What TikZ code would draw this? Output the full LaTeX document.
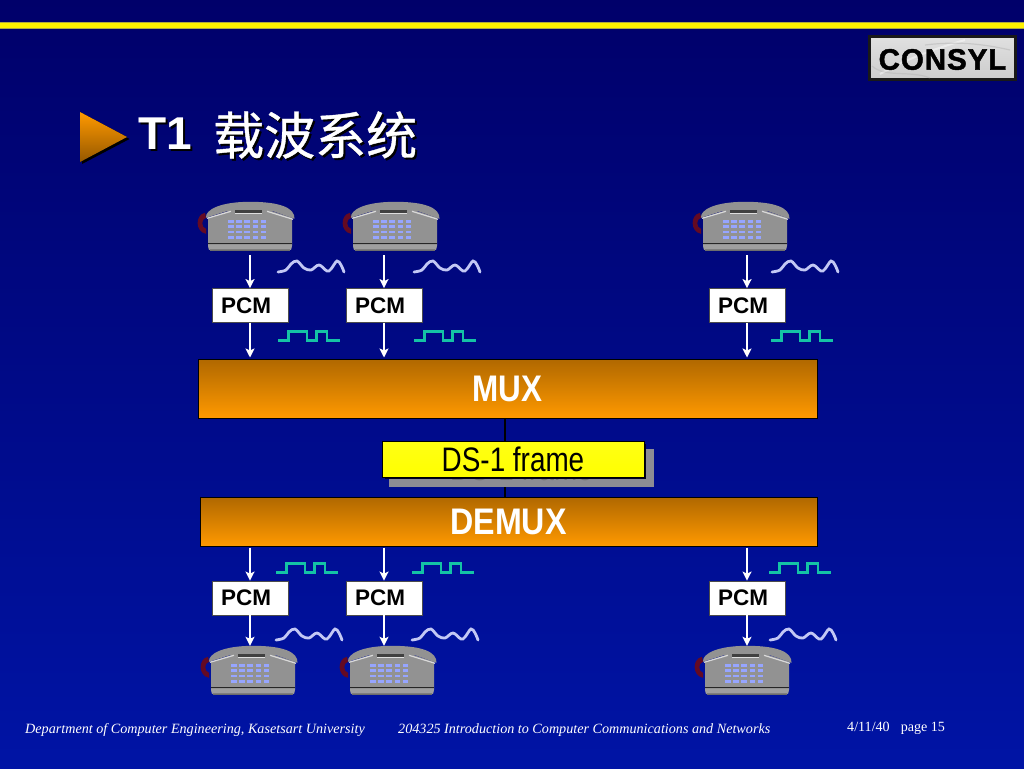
\documentclass[tikz,border=0pt]{standalone}
\usepackage{fontspec}
\setmainfont{Liberation Sans}
\newfontfamily\cjkfont{Noto Sans CJK SC}[FakeBold=0.8]
\newfontfamily\footfont{Liberation Serif}
\newfontfamily\heavyfont{Liberation Sans Bold}[FakeBold=1.5,LetterSpace=3]
\usetikzlibrary{arrows.meta,calc}
\definecolor{bgtop}{RGB}{0,0,106}
\definecolor{bgbot}{RGB}{0,20,165}
\definecolor{barl}{RGB}{255,153,0}
\definecolor{bard}{RGB}{176,104,0}
\definecolor{telgrey}{RGB}{146,146,146}
\definecolor{telkey}{RGB}{150,165,255}
\definecolor{wavec}{RGB}{195,200,245}
\definecolor{digic}{RGB}{20,195,165}
\definecolor{cordc}{RGB}{100,10,35}
\definecolor{ghost}{RGB}{140,140,148}
\newcommand{\fsz}[1]{\fontsize{#1}{#1}\selectfont}
\newcommand{\pcmtext}{\hspace*{-8pt}PCM}
\tikzset{
  x=1pt,y=-1pt,
  pcmbox/.style={draw=black!70,line width=.8pt,fill=white,minimum width=76pt,minimum height=34pt,inner sep=0pt,font=\fsz{22.5}\bfseries,text=black},
  barbox/.style={draw=black,line width=1pt,top color=bard,bottom color=barl,inner sep=0pt,text=white,font=\fsz{38}\bfseries},
  telbox/.style={minimum width=88pt,minimum height=49pt,inner sep=0pt},
  sig/.style={draw=white,line width=2.4pt,-{Stealth[length=9pt,width=9pt,inset=2pt]}},
  linklabel/.style={draw=black,line width=.8pt,inner sep=0pt},
  foot/.style={inner sep=0pt,text=white,font=\footfont\fsz{14.1}},
  telephone/.pic={
    \fill[cordc] (-45,11) .. controls (-55,13) and (-55,30) .. (-44,32) -- (-44,27) .. controls (-49,26) and (-49,17) .. (-44,16) -- cycle;
    \fill[telgrey] (-42,16) -- (-18,8) -- (18,8) -- (42,16) -- (42,44) -- (41,48) -- (-41,48) -- (-42,44) -- cycle;
    \fill[black!25!telgrey] (-40,47.5) rectangle (40,49.5);
    \fill[white!12!telgrey] (-42,43) -- (42,43) -- (41,47.5) -- (-41,47.5) -- cycle;
    \draw[black!85,line width=.9pt] (-42,41.5) -- (42,41.5);
    \fill[telgrey] (-44,16) .. controls (-45,8) and (-30,0) .. (0,0) .. controls (30,0) and (45,6) .. (44.5,17) -- (22,9) -- (-22,9) -- cycle;
    \draw[white!85!black,line width=1.2pt] (-43,16.5) -- (-19,9.5);
    \draw[white!85!black,line width=1.2pt] (17,9.5) -- (43,17.5);
    \fill[black!75] (-15,8) rectangle (12,11);
    \fill[white!70!telgrey] (-15,11) rectangle (12,12.5);
    \foreach \r in {0,1,2,3}{
      \foreach \c in {0,1,2,3,4}{
        \fill[telkey] ({-22+\c*8.2},{18+\r*5.4}) rectangle ++(5.6,2.7);
      }
    }
  },
  anwave/.pic={
    \draw[wavec,line width=2.8pt,line cap=round] plot[smooth,tension=.6] coordinates {(0,0) (8,-2) (13,-8) (19,-11) (26,-4) (33,-2) (41,-7) (49,-1) (53,-3) (59,-11) (63,-7) (66,0)};
  },
  digwave/.pic={
    \draw[digic,line width=2.8pt] (0,0) -- (10.7,0) -- (10.7,-9.3) -- (29,-9.3) -- (29,0) -- (38.3,0) -- (38.3,-9.3) -- (49,-9.3) -- (49,0) -- (61.7,0);
  }
}
\begin{document}
\begin{tikzpicture}
\useasboundingbox (0,0) rectangle (1024,768);
\fill[top color=bgtop,bottom color=bgbot] (0,0) rectangle (1024,768);
% top rule
\fill[black!35!yellow] (0,22.5) rectangle (1024,29);
\fill[yellow] (0,23) rectangle (1024,28);
% logo
\node[draw=black!90,line width=2.4pt,minimum width=146pt,minimum height=43pt,inner sep=0pt,top color=black!12,bottom color=black!20] (logo) at (942.5,58) {};
\begin{scope}
\clip (870,37) rectangle (1015,79);
\draw[white,line width=2pt,opacity=.45] (880,74) .. controls (905,60) and (930,50) .. (965,40);
\draw[black!40,line width=1.2pt,opacity=.3] (925,45) .. controls (950,42) and (975,42) .. (1010,50);
\draw[black!35,line width=1.2pt,opacity=.3] (872,66) .. controls (885,78) and (910,70) .. (930,78);
\end{scope}
\node[inner sep=0pt,text=black,font=\heavyfont\fsz{29.6}] (logotext) at (942.5,59.5) {CONSYL};
% title
\fill[black] (82,114.5) -- (129.5,139) -- (82,164) -- cycle;
\fill[top color=barl,bottom color=bard!85!black] (80,112) -- (127,137) -- (80,162) -- cycle;
\node[anchor=west,inner sep=0pt,text=black,font=\fsz{46}\bfseries] (t1s) at (140.5,136) {T1};
\node[anchor=west,inner sep=0pt,text=white,font=\fsz{46}\bfseries] (t1) at (138.5,134) {T1};
\node[anchor=west,inner sep=0pt,text=black,font=\cjkfont\fsz{51}] (tcs) at (215,137) {载波系统};
\node[anchor=west,inner sep=0pt,text=white,font=\cjkfont\fsz{51}] (tc) at (213,135) {载波系统};
% link and frame
\node[barbox] (mux) at (507.5,388.5) [minimum width=619pt,minimum height=59pt] {\raisebox{-1pt}{\scalebox{.85}[1]{\fsz{37}MUX}}};
\node[barbox] (demux) at (508.5,521.5) [minimum width=617pt,minimum height=49pt] {\raisebox{-1.5pt}{\scalebox{.87}[1]{\fsz{37}DEMUX}}};
\draw[black,line width=1.3pt] (mux.south -| 505,0) -- (demux.north -| 505,0);
\node[fill=ghost,minimum width=265pt,minimum height=38pt,inner sep=0pt,text=black!55,font=\fsz{34}] (ghostbox) at (521.5,468) {\scalebox{.82}[1]{DS-1 frame}};
\fill[black!70!bgtop] (385,444) rectangle (646,479);
\node[linklabel,top color=yellow!92!white,bottom color=yellow,minimum width=262pt,minimum height=36pt,text=black,font=\fsz{34}] (frame) at (513,459) {\scalebox{.82}[1]{DS-1 frame}};
% telephones
\node[telbox] (tel1) at (250,226.5) {};
\node[telbox] (tel2) at (395,226.5) {};
\node[telbox] (tel3) at (745,226.5) {};
\node[telbox] (tel4) at (253,670.5) {};
\node[telbox] (tel5) at (392,670.5) {};
\node[telbox] (tel6) at (747,670.5) {};
\foreach \n in {tel1,tel2,tel3,tel4,tel5,tel6}{
  \pic at (\n.north) {telephone};
}
% pcm
\node[pcmbox] (pcm1) at (250,305.5) {\pcmtext};
\node[pcmbox] (pcm2) at (384,305.5) {\pcmtext};
\node[pcmbox] (pcm3) at (747,305.5) {\pcmtext};
\node[pcmbox] (pcm4) at (250,598) {\pcmtext};
\node[pcmbox] (pcm5) at (384,598) {\pcmtext};
\node[pcmbox] (pcm6) at (747,598) {\pcmtext};
% connectors
\foreach \t/\p in {tel1/pcm1,tel2/pcm2,tel3/pcm3}{
  \draw[sig] ($(\p.north |- \t.south)+(0,4)$) -- (\p.north);
  \draw[sig] (\p.south) -- ($(\p.south |- mux.north)+(0,-1)$);
}
\foreach \t/\p in {tel4/pcm4,tel5/pcm5,tel6/pcm6}{
  \draw[sig] ($(\p.north |- demux.south)+(0,1)$) -- (\p.north);
  \draw[sig] (\p.south) -- (\p.south |- \t.north);
}
% waves
\foreach \x in {278,414,772}{ \pic at (\x,272) {anwave}; }
\foreach \x in {276,412,770}{ \pic at (\x,640) {anwave}; }
\foreach \x in {278,414,771}{ \pic at (\x,340.5) {digwave}; }
\foreach \x in {276,412,769}{ \pic at (\x,572.5) {digwave}; }
% footer
\node[foot,anchor=west,font=\footfont\itshape\fsz{14.15}] (f1) at (25,730.5) {Department of Computer Engineering, Kasetsart University};
\node[foot,anchor=west,font=\footfont\itshape\fsz{14.15}] (f2) at (398,730.5) {204325 Introduction to Computer Communications and Networks};
\node[foot,anchor=west] (f3) at (847,728.5) {4/11/40\hspace{11pt}page 15};
\end{tikzpicture}
\end{document}
